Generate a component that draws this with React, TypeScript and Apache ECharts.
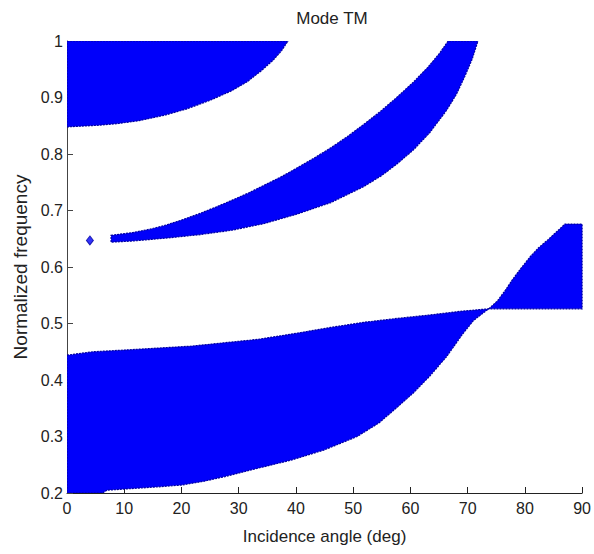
import React, { useEffect, useRef } from "react";
import * as echarts from "echarts";

type Pt = [number, number];

const xTickValues = [0, 10, 20, 30, 40, 50, 60, 70, 80, 90];
const yTickValues = [0.2, 0.3, 0.4, 0.5, 0.6, 0.7, 0.8, 0.9, 1];

// Band 1 (top-left gap)
const band1Upper: Pt[] = [[0, 1.0], [38.6, 1.0]];
const band1Lower: Pt[] = [[0, 0.848], [5.7, 0.851], [9, 0.854], [12.6, 0.859], [17.2, 0.869], [21, 0.88], [25, 0.895], [28.8, 0.912], [31.5, 0.928], [33.9, 0.947], [36, 0.966], [37.5, 0.983], [38.6, 1.0]];

// Band 2 (middle crescent)
const band2Upper: Pt[] = [[7.7, 0.656], [11.5, 0.661], [14.5, 0.667], [17.2, 0.674], [20, 0.683], [23, 0.694], [26, 0.706], [28.8, 0.718], [31.7, 0.731], [34.5, 0.745], [37.5, 0.76], [40.3, 0.776], [43.2, 0.793], [46.1, 0.811], [49, 0.831], [51.8, 0.852], [54.7, 0.875], [57.6, 0.9], [60.5, 0.927], [63, 0.953], [65, 0.977], [66.6, 1.0], [71.8, 1.0]];
const band2Lower: Pt[] = [[7.7, 0.644], [11.5, 0.646], [17.2, 0.651], [23, 0.657], [28.8, 0.665], [34.5, 0.677], [40.3, 0.694], [46.1, 0.714], [51.8, 0.742], [55, 0.762], [57.6, 0.782], [60.5, 0.807], [63.4, 0.838], [66.3, 0.877], [68, 0.905], [69.5, 0.937], [70.8, 0.968], [71.8, 1.0]];

// Band 3 (bottom-left gap)
const band3Upper: Pt[] = [[0, 0.444], [4.5, 0.45], [10, 0.453], [21.8, 0.46], [33.4, 0.472], [40.3, 0.483], [46, 0.493], [51.8, 0.502], [57.6, 0.509], [63.3, 0.515], [69.1, 0.522], [73.7, 0.526]];
const band3Lower: Pt[] = [[0, 0.2], [6.2, 0.2], [7, 0.205], [16.1, 0.211], [20, 0.214], [24, 0.221], [27.6, 0.229], [33.4, 0.244], [39.1, 0.258], [44.9, 0.276], [50.7, 0.3], [54.5, 0.324], [57.6, 0.351], [60.5, 0.377], [63.3, 0.406], [66.3, 0.441], [69.1, 0.481], [71, 0.505], [72.5, 0.517], [73.7, 0.526]];

// Band 4 (right gap after crossing)
const band4Upper: Pt[] = [[73.7, 0.526], [75.2, 0.54], [76.6, 0.559], [78, 0.58], [79.5, 0.6], [81, 0.619], [82.4, 0.634], [84, 0.648], [85.3, 0.66], [87, 0.676], [90, 0.676]];
const band4Lower: Pt[] = [[73.7, 0.526], [90, 0.526]];

// Isolated point
const isolatedPoints: Pt[] = [[4.0, 0.647]];

const bands: { upper: Pt[]; lower: Pt[] }[] = [
  { upper: band1Upper, lower: band1Lower },
  { upper: band2Upper, lower: band2Lower },
  { upper: band3Upper, lower: band3Lower },
  { upper: band4Upper, lower: band4Lower },
];

const FONT = "'Liberation Sans Narrow', 'Liberation Sans', Arial, sans-serif";
const BLUE = "#0000fa";

export default function App() {
  const ref = useRef<HTMLDivElement>(null);

  useEffect(() => {
    if (!ref.current) return;
    const chart = echarts.init(ref.current, undefined, { renderer: "svg" });
    chart.setOption({
      animation: false,
      backgroundColor: "#ffffff",
      title: {
        text: "Mode TM",
        left: 327,
        textAlign: "center",
        top: 5,
        textStyle: { fontFamily: FONT, fontSize: 17, fontWeight: "normal", color: "#222" },
      },
      grid: { left: 67, right: 6, top: 41, bottom: 61, containLabel: false },
      xAxis: {
        type: "value",
        min: 0,
        max: 90,
        interval: 10,
        name: "Incidence angle (deg)",
        nameLocation: "middle",
        nameGap: 35,
        nameTextStyle: { fontFamily: FONT, fontSize: 17, color: "#222" },
        axisLine: { show: true, lineStyle: { color: "#222", width: 1 } },
        axisTick: { show: true, inside: true, length: 6, lineStyle: { color: "#222" } },
        axisLabel: {
          fontFamily: FONT,
          fontSize: 16,
          color: "#222",
          margin: 7,
          formatter: (v: number) => (xTickValues.includes(v) ? String(v) : ""),
        },
        splitLine: { show: false },
      },
      yAxis: {
        type: "value",
        min: 0.2,
        max: 1,
        interval: 0.1,
        name: "Normalized frequency",
        nameLocation: "middle",
        nameRotate: 90,
        nameGap: 32,
        nameTextStyle: { fontFamily: FONT, fontSize: 19, color: "#222" },
        axisLine: { show: true, lineStyle: { color: "#444", width: 1 } },
        axisTick: { show: true, inside: true, length: 6, lineStyle: { color: "#444" } },
        axisLabel: {
          fontFamily: FONT,
          fontSize: 16,
          color: "#222",
          margin: 4,
          formatter: (v: number) => {
            const r = Math.round(v * 10) / 10;
            return yTickValues.some((t) => Math.abs(t - r) < 1e-9) ? String(r) : "";
          },
        },
        splitLine: { show: false },
      },
      series: [
        {
          type: "custom",
          coordinateSystem: "cartesian2d",
          clip: true,
          data: bands.map((_, i) => [i, 0]),
          renderItem: (params: any, api: any) => {
            const b = bands[params.dataIndex];
            const pts = b.upper.concat(b.lower.slice().reverse()).map((p) => api.coord(p));
            return {
              type: "polygon",
              shape: { points: pts },
              style: { fill: BLUE, stroke: "#0000a0", lineWidth: 1.2, lineDash: [2, 1] },
            };
          },
          z: 2,
        },
        {
          type: "scatter",
          data: isolatedPoints,
          symbol: "diamond",
          symbolSize: [7, 9],
          itemStyle: { color: BLUE, borderColor: "#0000a0", borderWidth: 1 },
          z: 3,
        },
      ],
    });
    return () => chart.dispose();
  }, []);

  return (
    <div
      ref={ref}
      style={{ position: "fixed", left: 0, top: 0, width: 594, height: 554, background: "#fff" }}
    />
  );
}
